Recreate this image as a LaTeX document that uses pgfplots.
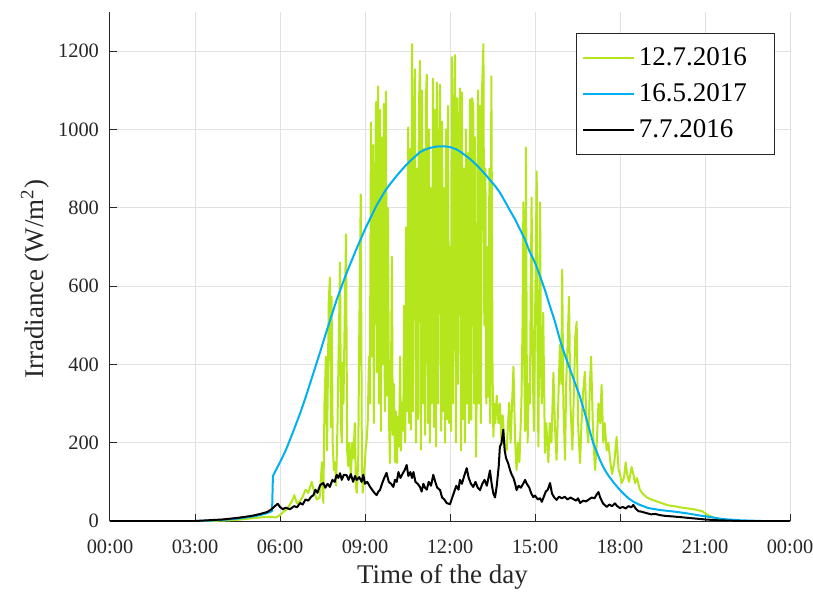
\documentclass[border=0pt]{standalone}
\usepackage{pgfplots}
\usepackage{pgfplotstable}
\pgfplotsset{compat=1.18}
\usepackage{fontspec}
\setmainfont{Liberation Serif}
\definecolor{cgreen}{RGB}{181,230,29}
\definecolor{cblue}{RGB}{0,176,240}
\definecolor{gridc}{RGB}{225,225,225}
\definecolor{axc}{RGB}{38,38,38}

\pgfplotstableread{
x y
0 0
3.5 0
4.0 1
4.5 3
5.0 7
5.3 9
5.6 11
5.85 9
6.0 15
6.1 22
6.25 30
6.35 42
6.45 55
6.5 66
6.6 45
6.7 50
6.8 62
6.9 80
7.0 72
7.12 100
7.2 75
7.3 55
7.4 60
7.48 150
7.53 46
7.57 300
7.62 420
7.66 180
7.72 560
7.76 622
7.80 240
7.82 573
7.86 200
7.90 130
7.94 150
7.98 90
8.03 250
8.08 480
8.12 660
8.15 250
8.18 200
8.21 404
8.24 300
8.28 500
8.33 732
8.37 180
8.41 140
8.45 200
8.50 110
8.55 200
8.59 160
8.64 250
8.68 90
8.71 72
8.76 150
8.80 500
8.85 834
8.89 150
8.92 72
8.97 120
9.02 180
9.06 207
9.10 260
9.14 420
9.17 300
9.21 1018
9.24 420
9.28 960
9.31 250
9.35 850
9.39 1070
9.42 380
9.46 1110
9.49 300
9.53 1050
9.56 230
9.60 980
9.63 400
9.67 1065
9.70 280
9.74 1097
9.77 320
9.81 800
9.85 250
9.88 148
9.92 400
9.95 675
9.98 220
10.02 350
10.06 150
10.09 280
10.13 148
10.16 266
10.20 190
10.24 420
10.27 180
10.31 302
10.35 230
10.38 550
10.42 200
10.45 750
10.49 280
10.52 1005
10.56 250
10.59 950
10.62 233
10.66 1218
10.69 280
10.73 1000
10.76 1154
10.80 200
10.83 900
10.87 260
10.90 1050
10.94 1175
10.97 182
11.01 1100
11.05 300
11.08 950
11.12 220
11.15 1080
11.18 1140
11.22 250
11.26 1000
11.29 200
11.33 850
11.36 300
11.40 1130
11.44 240
11.47 1050
11.51 190
11.54 1120
11.58 300
11.62 950
11.65 1115
11.69 230
11.72 1020
11.76 280
11.79 850
11.83 200
11.86 1000
11.90 260
11.93 1060
11.97 250
12.00 700
12.04 230
12.07 1185
12.11 300
12.14 1000
12.18 1190
12.21 200
12.25 1080
12.28 350
12.32 980
12.35 1105
12.39 180
12.42 1095
12.46 260
12.49 900
12.53 200
12.56 1000
12.60 300
12.64 940
12.67 250
12.71 1077
12.75 258
12.78 1080
12.82 1060
12.85 300
12.88 980
12.92 164
12.95 404
12.99 1100
13.02 300
13.06 1060
13.09 250
13.13 1100
13.18 1218
13.21 500
13.25 900
13.28 300
13.32 700
13.35 317
13.39 900
13.42 250
13.46 1136
13.50 400
13.53 215
13.57 300
13.60 250
13.65 320
13.71 250
13.76 300
13.82 194
13.86 270
13.92 200
14.00 180
14.05 250
14.09 302
14.14 200
14.18 280
14.24 394
14.30 200
14.35 130
14.40 200
14.45 150
14.52 300
14.56 500
14.59 814
14.62 400
14.65 230
14.68 954
14.71 400
14.74 200
14.78 350
14.82 300
14.85 600
14.88 826
14.92 400
14.96 230
15.00 500
15.06 893
15.09 400
15.12 190
15.15 500
15.18 814
15.21 400
15.24 300
15.29 532
15.35 174
15.40 250
15.47 150
15.52 250
15.58 200
15.65 379
15.70 250
15.76 156
15.82 300
15.88 450
15.93 350
15.96 642
16.00 300
16.06 156
16.10 350
16.15 450
16.20 573
16.25 300
16.32 182
16.38 350
16.42 470
16.47 509
16.52 250
16.59 148
16.64 250
16.70 330
16.76 381
16.82 250
16.88 200
16.94 350
16.98 420
17.04 250
17.08 180
17.12 130
17.18 200
17.24 300
17.30 250
17.35 348
17.41 200
17.46 250
17.53 180
17.59 200
17.66 150
17.72 120
17.80 150
17.88 215
17.95 130
18.00 120
18.06 97
18.14 110
18.20 150
18.25 120
18.32 100
18.41 138
18.47 120
18.53 97
18.60 110
18.70 80
18.80 70
18.95 60
19.10 55
19.30 50
19.50 45
19.70 40
19.90 38
20.10 35
20.30 33
20.60 30
20.90 25
21.10 15
21.40 6
21.80 2
22.20 0
24 0
}\greendata

\pgfplotstableread{
x y
0 0
3.0 0
3.5 1
4.0 3
4.5 6
5.0 11
5.3 15
5.5 19
5.72 25
5.75 115
6.0 150
6.2 180
6.35 207
6.5 235
6.71 275
6.9 315
7.1 360
7.41 430
7.6 475
7.8 520
8.0 565
8.29 622
8.5 660
8.7 695
8.82 715
9.0 745
9.2 775
9.4 805
9.53 821
9.7 842
9.9 862
10.1 880
10.24 892
10.4 905
10.6 920
10.8 933
10.94 942
11.1 948
11.3 953
11.5 956
11.65 957
11.8 957
12.0 955
12.2 950
12.35 944
12.5 936
12.7 925
12.9 912
13.06 900
13.25 885
13.4 872
13.6 855
13.76 839
13.95 815
14.1 795
14.3 770
14.47 745
14.65 718
14.8 690
15.0 660
15.18 625
15.35 590
15.5 555
15.7 510
15.88 463
16.05 425
16.2 395
16.4 355
16.59 317
16.8 265
17.05 200
17.29 156
17.45 132
17.6 115
17.8 96
18.0 79
18.15 68
18.3 58
18.5 48
18.71 41
19.0 33
19.41 28
19.8 25
20.12 22
20.5 18
20.82 14
21.2 10
21.53 6
21.8 4
22.2 2
22.6 1
23 0
24 0
}\bluedata

\pgfplotstableread{
x y
0 0
3.0 0
3.5 2
4.0 4
4.5 8
5.0 13
5.3 18
5.55 23
5.7 30
5.82 38
5.92 44
6.0 36
6.1 30
6.2 34
6.35 30
6.5 38
6.6 35
6.71 46
6.8 42
6.9 55
7.0 52
7.1 62
7.18 66
7.25 80
7.32 72
7.42 92
7.53 97
7.6 85
7.68 95
7.76 87
7.85 105
7.93 100
8.0 118
8.06 110
8.12 122
8.18 105
8.25 118
8.35 117
8.42 105
8.5 120
8.58 100
8.65 115
8.71 105
8.8 112
8.88 100
8.94 118
9.0 95
9.08 100
9.18 87
9.25 80
9.33 72
9.41 66
9.47 75
9.53 79
9.6 95
9.68 110
9.76 123
9.84 100
9.92 95
10.0 87
10.06 105
10.12 100
10.18 125
10.25 110
10.32 120
10.40 130
10.47 143
10.53 115
10.6 125
10.66 110
10.71 125
10.78 100
10.86 95
10.94 87
11.0 75
11.06 95
11.12 85
11.18 80
11.25 100
11.33 90
11.41 118
11.48 100
11.55 85
11.65 79
11.72 60
11.8 55
11.88 46
12.0 43
12.08 60
12.15 75
12.22 90
12.3 80
12.35 105
12.42 95
12.5 115
12.59 135
12.66 110
12.74 95
12.82 87
12.9 100
12.98 85
13.06 79
13.14 95
13.22 105
13.3 90
13.41 129
13.47 95
13.53 70
13.59 60
13.65 90
13.72 140
13.76 189
13.82 200
13.88 233
13.93 180
13.98 160
14.05 148
14.12 130
14.18 118
14.24 110
14.3 95
14.35 79
14.42 90
14.5 85
14.58 95
14.65 105
14.71 95
14.8 85
14.87 70
14.94 61
15.0 65
15.1 55
15.18 58
15.24 49
15.3 60
15.38 75
15.45 80
15.53 97
15.6 70
15.68 60
15.76 54
15.85 62
15.95 58
16.05 62
16.15 55
16.25 60
16.35 56
16.45 52
16.52 58
16.59 46
16.7 52
16.8 50
16.9 55
17.0 60
17.1 58
17.18 68
17.24 74
17.3 60
17.4 45
17.53 36
17.62 42
17.72 38
17.82 45
17.9 38
18.0 33
18.1 36
18.2 32
18.3 38
18.4 35
18.47 41
18.55 32
18.65 25
18.75 24
18.94 20
19.1 17
19.25 18
19.41 15
19.6 13
19.8 12
20.12 10
20.4 8
20.7 6
21.0 4
21.4 2
21.8 1
22.2 0
24 0
}\blackdata

\begin{document}
\begin{tikzpicture}
\begin{axis}[
  at={(0,0)}, anchor=south west,
  scale only axis, width=340pt, height=254.5pt,
  xmin=0, xmax=24, ymin=0, ymax=1300,
  axis x line*=bottom, axis y line*=left,
  axis line style={axc, line width=0.5pt},
  xtick={0,3,...,24},
  xticklabels={00:00,03:00,06:00,09:00,12:00,15:00,18:00,21:00,00:00},
  ytick={0,200,...,1200},
  grid=major, major grid style={gridc, line width=0.5pt},
  tick align=inside, major tick length=3.5pt,
  tick style={axc, line width=0.5pt},
  tick label style={font=\fontsize{10.2}{12}\selectfont, text=axc, /pgf/number format/assume math mode=true},
  xticklabel style={yshift=-6pt},
  yticklabel style={/pgf/number format/1000 sep={}, xshift=-2pt},
  xlabel={Time of the day},
  ylabel={Irradiance (W/m\textsuperscript{2})},
  label style={font=\fontsize{13.5}{16}\selectfont, text=axc},
  xlabel style={at={(axis description cs:0.489,-0.110)}, anchor=center},
  ylabel style={at={(axis description cs:-0.110,0.475)}, anchor=center},
  legend style={at={(rel axis cs:0.978,0.9587)}, anchor=north east,
    draw=axc, line width=0.6pt, font=\fontsize{13.5}{16}\selectfont,
    cells={anchor=west}, row sep=3.5pt, inner xsep=3pt, inner ysep=5pt,
    nodes={inner xsep=1.75pt}},
  legend image code/.code={\draw[#1] (0pt,0pt) -- (25.5pt,0pt);},
  every axis plot/.append style={line width=1pt, line join=round},
]
\addplot[cgreen] table[x=x,y=y] {\greendata};
\addlegendentry{12.7.2016\hspace*{9pt}}
\addplot[cblue] table[x=x,y=y] {\bluedata};
\addlegendentry{16.5.2017\hspace*{9pt}}
\addplot[black] table[x=x,y=y] {\blackdata};
\addlegendentry{7.7.2016\hspace*{9pt}}
\end{axis}
\pgfresetboundingbox
\path[use as bounding box] (-55pt,-36pt) rectangle (351.5pt,260.5pt);
\end{tikzpicture}
\end{document}
